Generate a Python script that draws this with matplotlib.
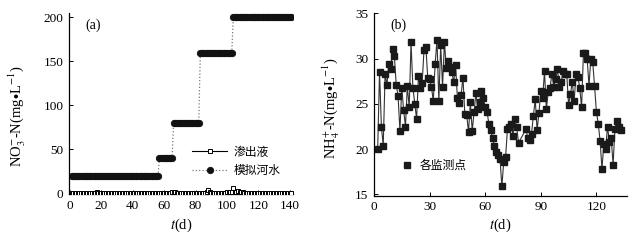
import numpy as np
import matplotlib
matplotlib.use("Agg")
import matplotlib.pyplot as plt

plt.rcParams['font.family'] = ['Liberation Serif', 'Noto Sans CJK SC', 'DejaVu Sans']
plt.rcParams['mathtext.fontset'] = 'stix'

# panel (a): simulated river water NO3-N, stepped levels
river_levels = [20, 40, 80, 160, 200]
river_counts = [56, 9, 17, 21, 38]   # days spent at each level, from day 1
river_days = np.arange(1, 1 + sum(river_counts))
river_vals = np.repeat(river_levels, river_counts)

# panel (a): leachate NO3-N, one value per day (days 1..141)
leach_vals = [
    0.3, 0.3, 0.3, 0.3, 0.3, 0.3, 0.3, 0.3, 0.3, 0.3,
    0.3, 0.3, 0.3, 0.3, 0.3, 0.4, 1.0, 0.4, 0.3, 0.3,
    0.3, 0.3, 0.3, 0.3, 0.3, 0.3, 0.3, 0.3, 0.3, 0.3,
    0.3, 0.3, 0.3, 0.3, 0.3, 0.3, 0.3, 0.3, 0.3, 0.3,
    0.3, 0.3, 0.3, 0.3, 0.3, 0.3, 0.3, 0.3, 0.3, 0.3,
    0.3, 0.3, 0.3, 0.3, 0.3, 0.3, 0.3, 0.3, 0.3, 0.3,
    0.3, 0.4, 0.5, 0.8, 1.0, 1.0, 1.0, 0.8, 0.5, 0.4,
    0.3, 0.3, 0.3, 0.3, 0.6, 0.8, 0.8, 0.8, 0.8, 0.8,
    0.8, 0.6, 0.5, 0.5, 0.6, 0.8, 1.0, 3.5, 1.0, 0.5,
    0.5, 0.5, 0.5, 0.5, 0.5, 0.5, 0.5, 0.5, 0.8, 1.0,
    1.0, 1.2, 1.0, 6.5, 1.0, 1.5, 2.5, 2.0, 1.5, 1.0,
    0.5, 0.5, 0.5, 0.5, 0.5, 0.5, 0.5, 0.5, 0.5, 0.5,
    0.5, 0.5, 0.5, 0.5, 0.5, 0.5, 0.5, 0.5, 0.5, 0.5,
    0.5, 0.5, 0.5, 0.5, 0.5, 0.5, 0.5, 0.5, 0.5, 0.5,
    0.5,
]
leach_days = np.arange(1, len(leach_vals) + 1)

# panel (b): NH4-N at monitoring points
nh4_days_1 = list(range(2, 79))
nh4_vals_1 = [
    20.0, 28.5, 22.5, 20.4, 28.3, 27.1, 29.4, 28.8, 31.1, 30.3,
    27.1, 25.9, 22.0, 26.8, 24.3, 22.5, 27.0, 24.6, 31.8, 26.8,
    25.0, 23.3, 28.1, 26.8, 27.3, 31.0, 31.3, 27.9, 27.7, 26.9,
    25.3, 29.4, 32.1, 25.3, 31.5, 26.9, 31.8, 29.0, 29.7, 29.1,
    28.5, 27.4, 29.3, 25.7, 25.1, 26.0, 27.9, 23.9, 23.8, 21.9,
    25.2, 22.0, 24.1, 26.2, 24.4, 25.2, 26.4, 25.6, 24.7, 24.1,
    22.8, 22.1, 21.2, 20.3, 19.7, 19.4, 18.9, 15.9, 18.6, 19.1,
    22.2, 22.4, 22.8, 21.5, 23.3, 22.4, 20.7,
]
nh4_days_2 = list(range(82, 134))
nh4_vals_2 = [
    22.2, 21.2, 21.0, 21.7, 23.7, 25.5, 22.1, 24.0, 26.4, 25.7,
    28.6, 24.4, 26.3, 26.8, 28.3, 26.9, 27.7, 28.8, 26.9, 27.4,
    28.6, 28.3, 28.3, 24.9, 26.1, 27.4, 25.3, 28.3, 28.0, 26.8,
    24.6, 30.6, 30.6, 30.0, 27.0, 30.0, 29.6, 27.0, 24.1, 22.8,
    20.9, 17.8, 20.6, 20.0, 22.5, 20.8, 21.2, 18.3, 22.2, 23.1,
    22.4, 22.1,
]
nh4_days = nh4_days_1 + nh4_days_2
nh4_vals = nh4_vals_1 + nh4_vals_2

cjk = ['Noto Sans CJK SC', 'DejaVu Sans']

fig = plt.figure(figsize=(6.43, 2.4), dpi=100)
ax1 = fig.add_axes([0.1073, 0.190, 0.3484, 0.7546])
ax2 = fig.add_axes([0.5816, 0.185, 0.3935, 0.7596])

# ---- panel (a)
ax1.plot(leach_days, leach_vals, '-', color='black', lw=0.8, marker='s', ms=3.0,
         mfc='white', mec='black', mew=0.7, label='渗出液', zorder=3)
ax1.plot(river_days, river_vals, ':', color='#777777', lw=0.9, marker='o', ms=4.6,
         mfc='#111111', mec='#111111', mew=0.6, label='模拟河水', zorder=2)
ax1.set_xlim(-0.6, 142)
ax1.set_ylim(-1.2, 204.6)
ax1.set_xticks(range(0, 141, 20))
ax1.set_yticks(range(0, 201, 50))
ax1.text(0.107, 0.935, '(a)', transform=ax1.transAxes, ha='center', va='center', fontsize=10)
ax1.set_ylabel(r'NO$_3^{-}$-N(mg$\bullet$L$^{-1}$)', fontsize=10.5)
ax1.yaxis.set_label_coords(-0.185, 0.43)
ax1.set_xlabel(r'$t$(d)', fontsize=10.5)
ax1.xaxis.set_label_coords(0.503, -0.125)
ax1.legend(loc='upper left', bbox_to_anchor=(0.549, 0.27), frameon=False,
           prop={'family': cjk, 'size': 8.5}, handlelength=3.0,
           handletextpad=0.5, labelspacing=0.45, borderpad=0, borderaxespad=0)

# ---- panel (b)
ax2.plot(nh4_days, nh4_vals, '-', color='#333333', lw=0.8, marker='s', ms=4.6,
         mfc='#1a1a1a', mec='#1a1a1a', label='各监测点')
ax2.set_xlim(0, 136.5)
ax2.set_ylim(14.87, 35)
ax2.set_xticks(range(0, 121, 30))
ax2.set_yticks(range(15, 36, 5))
ax2.text(0.095, 0.937, '(b)', transform=ax2.transAxes, ha='center', va='center', fontsize=10)
ax2.set_ylabel(r'NH$_4^{+}$-N(mg$\bullet$L$^{-1}$)', fontsize=10.5)
ax2.yaxis.set_label_coords(-0.125, 0.48)
ax2.set_xlabel(r'$t$(d)', fontsize=10.5)
ax2.xaxis.set_label_coords(0.498, -0.118)
ax2.legend([ax2.lines[0]], ['各监测点'], loc='upper left', bbox_to_anchor=(0.107, 0.2),
           frameon=False, prop={'family': cjk, 'size': 8.5}, handlelength=1.0,
           handletextpad=0.6, borderpad=0, borderaxespad=0)
ax2.get_legend().legend_handles[0].set_linestyle('none')

for ax in (ax1, ax2):
    for side in ('top', 'right'):
        ax.spines[side].set_visible(False)
    ax.spines['left'].set_linewidth(0.9)
    ax.spines['bottom'].set_linewidth(0.9)
    ax.tick_params(direction='in', length=3, width=0.7, labelsize=9.5, pad=4)

fig.savefig('out.png', dpi=100, facecolor='white')
